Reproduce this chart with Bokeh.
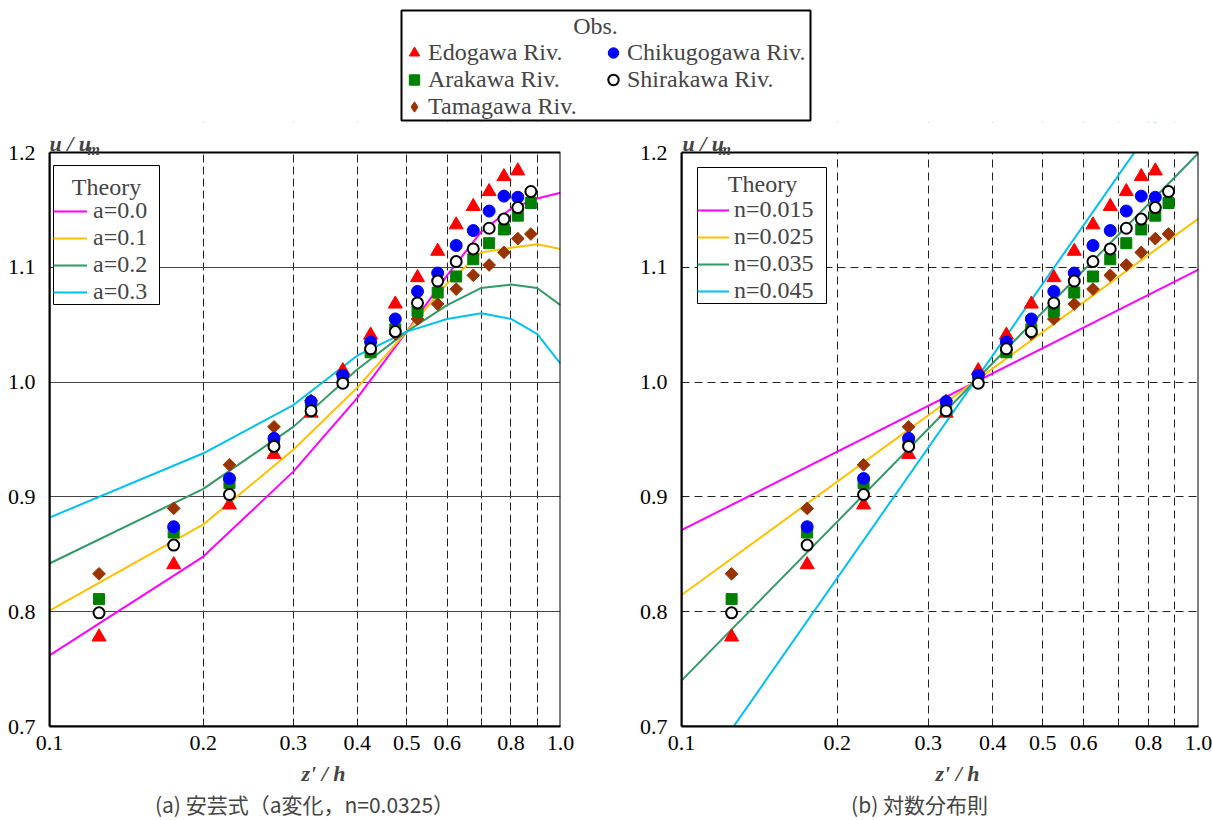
from bokeh.plotting import figure
from bokeh.models import (Range1d, FixedTicker, PrintfTickFormatter, Legend,
                          LegendItem, Label, BoxAnnotation)
from bokeh.layouts import column, row
from bokeh.embed import file_html
from bokeh.resources import INLINE
import math

# ---------------- data ----------------
x_obs = [0.125, 0.175, 0.225, 0.275, 0.325, 0.375, 0.425, 0.475,
         0.525, 0.575, 0.625, 0.675, 0.725, 0.775, 0.825, 0.875]

edogawa_x = x_obs[:15]
edogawa_y = [0.778, 0.841, 0.893, 0.937, 0.973, 1.010, 1.041, 1.068,
             1.091, 1.114, 1.137, 1.153, 1.166, 1.179, 1.184]

chikugo_x = x_obs[1:15]
chikugo_y = [0.874, 0.916, 0.951, 0.983, 1.006, 1.035, 1.055,
             1.079, 1.095, 1.119, 1.132, 1.149, 1.162, 1.161]

arakawa_x = x_obs
arakawa_y = [0.811, 0.869, 0.912, 0.948, 0.976, 1.003, 1.026, 1.046,
             1.062, 1.078, 1.092, 1.107, 1.121, 1.133, 1.145, 1.156]

shirakawa_x = x_obs
shirakawa_y = [0.799, 0.858, 0.902, 0.944, 0.975, 0.999, 1.029, 1.044,
               1.069, 1.088, 1.105, 1.116, 1.134, 1.142, 1.152, 1.166]

tamagawa_x = x_obs
tamagawa_y = [0.833, 0.890, 0.928, 0.961, 0.984, 1.007, 1.028, 1.042,
              1.055, 1.068, 1.081, 1.093, 1.102, 1.113, 1.125, 1.129]

# (a) Aki formula, varying a
x_theory_a = [0.1, 0.2, 0.3, 0.4, 0.5, 0.6, 0.7, 0.8, 0.9, 1.0]
a_labels = ["a=0.0", "a=0.1", "a=0.2", "a=0.3"]
a_00 = [0.762, 0.848, 0.922, 0.986, 1.044, 1.093, 1.131, 1.151, 1.160, 1.165]
a_01 = [0.801, 0.876, 0.941, 0.995, 1.044, 1.086, 1.113, 1.117, 1.120, 1.116]
a_02 = [0.842, 0.907, 0.961, 1.011, 1.044, 1.067, 1.082, 1.085, 1.082, 1.067]
a_03 = [0.882, 0.938, 0.980, 1.023, 1.044, 1.055, 1.060, 1.055, 1.042, 1.016]

# (b) log law, varying n
x_theory_n = [0.1, 1.0]
n_labels = ["n=0.015", "n=0.025", "n=0.035", "n=0.045"]
n_015 = [0.871, 1.098]
n_025 = [0.8145, 1.1425]
n_035 = [0.740, 1.1995]
n_045 = [0.635, 1.280]

x_ticks = [0.1, 0.2, 0.3, 0.4, 0.5, 0.6, 0.8, 1.0]
x_grid = [0.2, 0.3, 0.4, 0.5, 0.6, 0.7, 0.8, 0.9]
y_ticks = [0.7, 0.8, 0.9, 1.0, 1.1, 1.2]
y_grid = [0.8, 0.9, 1.0, 1.1]
X_MIN, X_MAX, Y_MIN, Y_MAX = 0.1, 1.0, 0.7, 1.2

theory_colors = ["#FF00FF", "#FFC000", "#339966", "#00C0F0"]

SERIF = "Liberation Serif"
CJK = "Noto Sans CJK JP"
FS = "22px"
LFS = "24px"

series = [
    # name, xs, ys, marker, legend marker, size, fill, line, line_width, angle
    ("Tamagawa Riv.", tamagawa_x, tamagawa_y, "square", "diamond", 9, "#993300", "#993300", 1, math.pi / 4),
    ("Edogawa Riv.", edogawa_x, edogawa_y, "triangle", "triangle", 14, "#FF0000", "#FF0000", 1, 0.0),
    ("Arakawa Riv.", arakawa_x, arakawa_y, "square", "square", 11, "#008000", "#008000", 1, 0.0),
    ("Chikugogawa Riv.", chikugo_x, chikugo_y, "circle", "circle", 12, "#0000FF", "#0000FF", 1, 0.0),
    ("Shirakawa Riv.", shirakawa_x, shirakawa_y, "circle", "circle", 11, "white", "black", 2, 0.0),
]

# ---------------- layout geometry (page pixels) ----------------
TOP_H = 122          # height of the top legend strip
BOTTOM_H = 60        # height of the caption strip
PANEL_H = 820 - TOP_H - BOTTOM_H
BOX_TOP, BOX_BOTTOM = 152, 726
y_hi = Y_MAX + (Y_MAX - Y_MIN) * (BOX_TOP - TOP_H) / (BOX_BOTTOM - BOX_TOP)


def make_panel(min_left, min_right, grid_y_dash, grid_x_dash):
    p = figure(width=606, height=PANEL_H, x_axis_type="log",
               x_range=Range1d(X_MIN, X_MAX), y_range=Range1d(Y_MIN, y_hi),
               output_backend="svg", toolbar_location=None, title=None,
               min_border_left=min_left, min_border_right=min_right,
               min_border_top=0, min_border_bottom=820 - BOTTOM_H - BOX_BOTTOM)
    p.background_fill_color = "white"
    p.border_fill_color = "white"
    p.outline_line_color = None
    for ax in (p.xaxis[0], p.yaxis[0]):
        ax.axis_line_color = "black"
        ax.axis_line_width = 2
        ax.major_tick_line_color = None
        ax.minor_tick_line_color = None
        ax.major_label_text_font = SERIF
        ax.major_label_text_font_size = FS
        ax.major_label_text_color = "black"
        ax.formatter = PrintfTickFormatter(format="%.1f")
    p.xaxis[0].ticker = FixedTicker(ticks=x_ticks)
    p.yaxis[0].ticker = FixedTicker(ticks=y_ticks)
    p.yaxis[0].bounds = (Y_MIN, Y_MAX)
    p.xaxis[0].major_label_standoff = 3
    p.yaxis[0].major_label_standoff = 8
    p.xgrid[0].ticker = FixedTicker(ticks=x_grid)
    p.ygrid[0].ticker = FixedTicker(ticks=y_grid)
    p.xgrid[0].grid_line_color = "#222222"
    p.xgrid[0].grid_line_width = 1
    p.xgrid[0].grid_line_dash = grid_x_dash
    p.ygrid[0].grid_line_color = "#444444"
    p.ygrid[0].grid_line_width = 1
    p.ygrid[0].grid_line_dash = grid_y_dash
    return p


def add_points(p):
    for name, xs, ys, mk, lmk, sz, fc, lc, lw, ang in series:
        p.scatter(x=xs, y=ys, marker=mk, size=sz, fill_color=fc,
                  line_color=lc, line_width=lw, angle=ang)


def finish_box(p):
    # white mask above the plot box (hides grid / lines beyond 1.2), then the box border
    p.add_layout(BoxAnnotation(left=X_MIN, right=X_MAX, bottom=Y_MAX, top=y_hi,
                               fill_color="white", fill_alpha=1, line_color=None))
    p.add_layout(BoxAnnotation(left=X_MIN, right=X_MAX, bottom=Y_MIN, top=Y_MAX,
                               fill_alpha=0, line_color="black", line_width=2,
                               line_alpha=1))


def screen_box(p, left, right, bottom, top, lw):
    p.add_layout(BoxAnnotation(left=left, right=right, bottom=bottom, top=top,
                               left_units="screen", right_units="screen",
                               bottom_units="screen", top_units="screen",
                               fill_color="white", fill_alpha=1,
                               line_color="black", line_width=lw, line_alpha=1))


def legend_common(**kw):
    base = dict(title="\u00a0", label_text_font=SERIF, label_text_font_size=LFS,
                title_text_font=SERIF, title_text_font_size=LFS,
                title_text_font_style="normal", title_standoff=0,
                spacing=0, margin=0, border_line_color=None,
                background_fill_alpha=0)
    base.update(kw)
    return Legend(**base)


def add_theory_legend(p, rends, labels, loc, gw, standoff):
    items = [LegendItem(label=l, renderers=[r]) for l, r in zip(labels, rends)]
    p.add_layout(legend_common(items=items, location=loc, glyph_width=gw,
                               glyph_height=26, label_height=26,
                               label_standoff=standoff, padding=4))


def screen_label(p, x, y, text, font=SERIF, size=FS, style="normal",
                 align="left", baseline="alphabetic"):
    p.add_layout(Label(x=x, y=y, x_units="screen", y_units="screen", text=text,
                       text_font=font, text_font_size=size, text_font_style=style,
                       text_align=align, text_baseline=baseline, level="overlay"))


# ---------------- panel (a) ----------------
p1 = make_panel(49, 46, "solid", "8 4")
ra = []
for ys, c in zip([a_00, a_01, a_02, a_03], theory_colors):
    ra.append(p1.line(x=x_theory_a, y=ys, line_color=c, line_width=2))
add_points(p1)
finish_box(p1)
screen_box(p1, 4, 110, 422, 561, 1)
screen_label(p1, 57, 540, "Theory", size=LFS, align="center", baseline="middle")
add_theory_legend(p1, ra, a_labels, (4, 421), 34, 6)
screen_label(p1, 0, 583, "u / u", style="bold italic")
screen_label(p1, 38, 577, "m", size="16px", style="bold italic")

# ---------------- panel (b) ----------------
p2 = make_panel(75, 14, "8 5", "8 5")
p2.ygrid[0].grid_line_color = "#222222"
rn = []
for ys, c in zip([n_015, n_025, n_035, n_045], theory_colors):
    rn.append(p2.line(x=x_theory_n, y=ys, line_color=c, line_width=2))
add_points(p2)
finish_box(p2)
screen_box(p2, 16, 145, 423, 559, 1)
screen_label(p2, 81, 543, "Theory", size=LFS, align="center", baseline="middle")
add_theory_legend(p2, rn, n_labels, (16, 422), 32, 5)
screen_label(p2, 1, 583, "u / u", style="bold italic")
screen_label(p2, 37, 577, "m", size="16px", style="bold italic")

# ---------------- top strip: Obs. legend ----------------
p0 = figure(width=1212, height=TOP_H, x_range=Range1d(0, 1), y_range=Range1d(10, 11),
            output_backend="svg", toolbar_location=None, title=None,
            x_axis_location=None, y_axis_location=None, min_border=0)
p0.grid.visible = False
p0.outline_line_color = None
proxy = {}
for name, xs, ys, mk, lmk, sz, fc, lc, lw, ang in series:
    # same data as the panels; this strip's y range keeps them out of view,
    # they only feed the legend glyphs
    proxy[name] = p0.scatter(x=xs, y=ys, marker=lmk, size=sz, fill_color=fc,
                             line_color=lc, line_width=lw)
screen_box(p0, 401, 810, TOP_H - 120, TOP_H - 10, 2)
screen_label(p0, 595, TOP_H - 25, "Obs.", size=LFS, align="center", baseline="middle")
order = ["Edogawa Riv.", "Arakawa Riv.", "Tamagawa Riv.", "Chikugogawa Riv.", "Shirakawa Riv."]
p0.add_layout(legend_common(items=[LegendItem(label=n, renderers=[proxy[n]]) for n in order],
                            nrows=3, location=(401, 2), glyph_width=26, glyph_height=27,
                            label_height=27, label_width=172, label_standoff=1, padding=0))

# ---------------- bottom strip: axis titles and captions ----------------
p3 = figure(width=1212, height=BOTTOM_H, x_range=Range1d(0, 1), y_range=Range1d(0, 1),
            output_backend="svg", toolbar_location=None, title=None,
            x_axis_location=None, y_axis_location=None, min_border=0)
p3.grid.visible = False
p3.outline_line_color = None
screen_label(p3, 323, 47, "z' / h", style="bold italic", align="center")
screen_label(p3, 957, 47, "z' / h", style="bold italic", align="center")
screen_label(p3, 304, 17, "(a) 安芸式（a変化，n=0.0325）", font=CJK, size="21px",
             align="center", baseline="middle")
screen_label(p3, 919, 17, "(b) 対数分布則", font=CJK, size="21px",
             align="center", baseline="middle")

layout = column(p0, row(p1, p2), p3)
open("out.html", "w").write(file_html(layout, INLINE))
